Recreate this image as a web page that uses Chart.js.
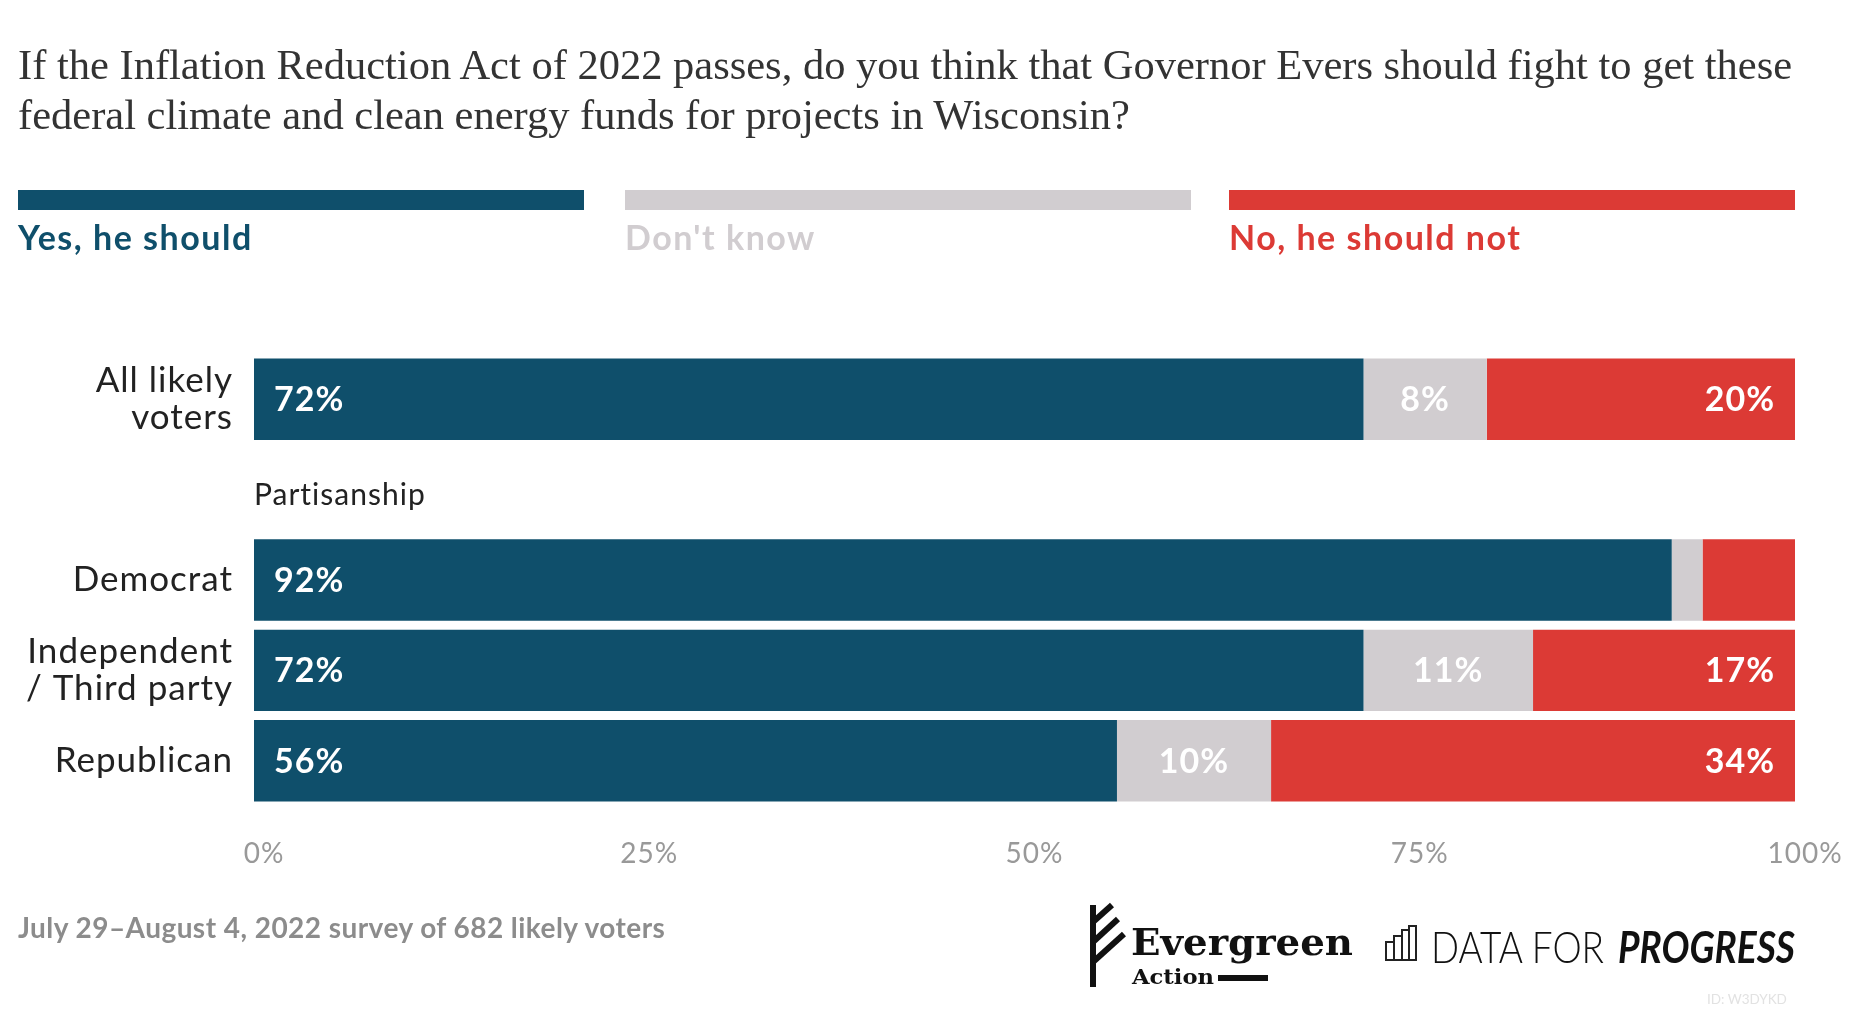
<!DOCTYPE html>
<html>
<head>
<meta charset="utf-8">
<script src="https://cdn.jsdelivr.net/npm/chart.js@4"></script>
<style>
  html, body { margin: 0; padding: 0; background: #ffffff; }
  body { width: 1852px; height: 1018px; position: relative; overflow: hidden; font-family: Lato, "Open Sans", sans-serif; }
  #wrap { position: absolute; left: 0; top: 0; width: 1852px; height: 1018px; }
  .abs { position: absolute; white-space: nowrap; }
  #title { left: 18px; top: 40px; font-family: "Liberation Serif", serif; font-size: 42.5px; line-height: 50px; color: #333333; }
  .lbar { position: absolute; top: 190px; height: 20px; width: 566px; }
  .llab { position: absolute; top: 216px; font-size: 34px; font-weight: 700; letter-spacing: 1.5px; }
  #footer { left: 18px; top: 910px; font-size: 28px; font-weight: 700; color: #8c8c8c; letter-spacing: 0.45px; }
  #idtag { left: 1707px; top: 991px; font-size: 13.5px; color: #e2e2e2; }
</style>
</head>
<body>
<div id="wrap"><canvas id="c"></canvas></div>
<div id="title" class="abs">If the Inflation Reduction Act of 2022 passes, do you think that Governor Evers should fight to get these<br>federal climate and clean energy funds for projects in Wisconsin?</div>
<div id="legend"></div>
<div id="footer" class="abs"></div>
<svg class="abs" style="left:1080px;top:900px" width="772" height="100" viewBox="1080 900 772 100">
  <!-- Evergreen Action logo -->
  <g transform="translate(-6,-3)">
    <rect x="1096" y="908" width="6" height="82" fill="#111"/>
    <path d="M1099 925 L1118 908" stroke="#111" stroke-width="6"/>
    <path d="M1099 945 L1124 922" stroke="#111" stroke-width="6"/>
    <path d="M1099 965 L1130 937" stroke="#111" stroke-width="6"/>
    <text x="1137" y="958" font-family="DejaVu Serif" font-weight="700" font-size="37" fill="#111" textLength="222" lengthAdjust="spacingAndGlyphs">Evergreen</text>
    <text x="1138" y="987" font-family="DejaVu Serif" font-weight="700" font-size="21" fill="#111" textLength="82" lengthAdjust="spacingAndGlyphs">Action</text>
    <rect x="1224" y="978" width="50" height="6" fill="#111"/>
  </g>
  <!-- Data for Progress logo -->
  <g fill="none" stroke="#222" stroke-width="2">
    <rect x="1386" y="942" width="8" height="18"/>
    <rect x="1394" y="936" width="8" height="24"/>
    <rect x="1402" y="930" width="7" height="30"/>
    <rect x="1409" y="926" width="7" height="34"/>
  </g>
  <text x="1431" y="963" font-family="Lato" font-weight="300" font-size="44" fill="#111" textLength="173" lengthAdjust="spacingAndGlyphs">DATA FOR</text>
  <text x="1618" y="963" font-family="Lato" font-style="italic" font-weight="700" font-size="44" fill="#111" textLength="177" lengthAdjust="spacingAndGlyphs">PROGRESS</text>
</svg>
<div id="idtag" class="abs">ID: W3DYKD</div>
<script>
// ---- data ----
const categories = [["All likely", "voters"], "", "Democrat", ["Independent", "/ Third party"], "Republican"];
const groupLabel = "Partisanship";
const seriesNames = ["Yes, he should", "Don't know", "No, he should not"];
const yesValues = [72, null, 92, 72, 56];
const dontKnowValues = [8, null, 2, 11, 10];
const noValues = [20, null, 6, 17, 34];
const tickValues = [0, 25, 50, 75, 100];
const footnote = "July 29\u2013August 4, 2022 survey of 682 likely voters";

// ---- styles ----
const colors = ["#0f4f6b", "#d1cdd0", "#dc3a35"];
const FONT = "Lato, 'Open Sans', sans-serif";

// legend (HTML)
const legendEl = document.getElementById('legend');
const legendX = [18, 625, 1229];
seriesNames.forEach((name, i) => {
  const bar = document.createElement('div');
  bar.className = 'lbar';
  bar.style.left = legendX[i] + 'px';
  bar.style.background = colors[i];
  legendEl.appendChild(bar);
  const lab = document.createElement('div');
  lab.className = 'llab';
  lab.style.left = legendX[i] + 'px';
  lab.style.color = colors[i];
  lab.textContent = name;
  legendEl.appendChild(lab);
});
document.getElementById('footer').textContent = footnote;

const spacingPlugin = {
  id: 'spacing',
  beforeLayout(chart) { chart.ctx.letterSpacing = '1px'; },
  beforeDraw(chart) { chart.ctx.letterSpacing = '1px'; }
};

const labelPlugin = {
  id: 'segLabels',
  afterDatasetsDraw(chart) {
    const ctx = chart.ctx;
    ctx.save();
    ctx.letterSpacing = '1px';
    ctx.font = "700 34px " + FONT;
    ctx.fillStyle = "#ffffff";
    ctx.textBaseline = "middle";
    chart.data.datasets.forEach((ds, di) => {
      const meta = chart.getDatasetMeta(di);
      meta.data.forEach((el, i) => {
        const v = ds.data[i];
        if (v == null || v < 8) return;
        const txt = v + "%";
        const left = Math.min(el.x, el.base), right = Math.max(el.x, el.base);
        if (di === 0) { ctx.textAlign = "left"; ctx.fillText(txt, left + 20, el.y + 1); }
        else if (di === 1) { ctx.textAlign = "center"; ctx.fillText(txt, (left + right) / 2, el.y + 1); }
        else { ctx.textAlign = "right"; ctx.fillText(txt, right - 20, el.y + 1); }
      });
    });
    // group label
    const yScale = chart.scales.y;
    const gy = yScale.getPixelForValue(1);
    ctx.font = "400 30px " + FONT;
    ctx.fillStyle = "#222222";
    ctx.textAlign = "left";
    ctx.fillText(groupLabel, chart.chartArea.left, gy + 6);
    ctx.restore();
  }
};

new Chart(document.getElementById('c'), {
  type: 'bar',
  data: {
    labels: categories,
    datasets: [
      { label: seriesNames[0], data: yesValues, backgroundColor: colors[0] },
      { label: seriesNames[1], data: dontKnowValues, backgroundColor: colors[1] },
      { label: seriesNames[2], data: noValues, backgroundColor: colors[2] }
    ]
  },
  options: {
    indexAxis: 'y',
    responsive: true,
    maintainAspectRatio: false,
    animation: false,
    events: [],
    layout: { padding: { top: 354, right: 57, bottom: 132, left: 0 } },
    datasets: { bar: { barPercentage: 0.9, categoryPercentage: 1.0, borderWidth: 0 } },
    plugins: { legend: { display: false }, tooltip: { enabled: false } },
    scales: {
      x: {
        stacked: true, min: 0, max: 100,
        afterBuildTicks(scale) { scale.ticks = tickValues.map(v => ({ value: v })); },
        afterFit(scale) { scale.height = 80; scale.paddingLeft = 0; scale.paddingRight = 0; },
        grid: { display: false, drawTicks: false },
        border: { display: false },
        ticks: { padding: 31, labelOffset: 10, color: "#999999", font: { family: FONT, size: 28, weight: 400 }, callback: v => v + "%", maxRotation: 0 }
      },
      y: {
        stacked: true,
        afterFit(scale) { scale.width = 254; },
        grid: { display: false, drawTicks: false },
        border: { display: false },
        ticks: { padding: 21, color: "#222222", font: { family: FONT, size: 35, weight: 400, lineHeight: 1.05 } }
      }
    }
  },
  plugins: [spacingPlugin, labelPlugin]
});
</script>
</body>
</html>
